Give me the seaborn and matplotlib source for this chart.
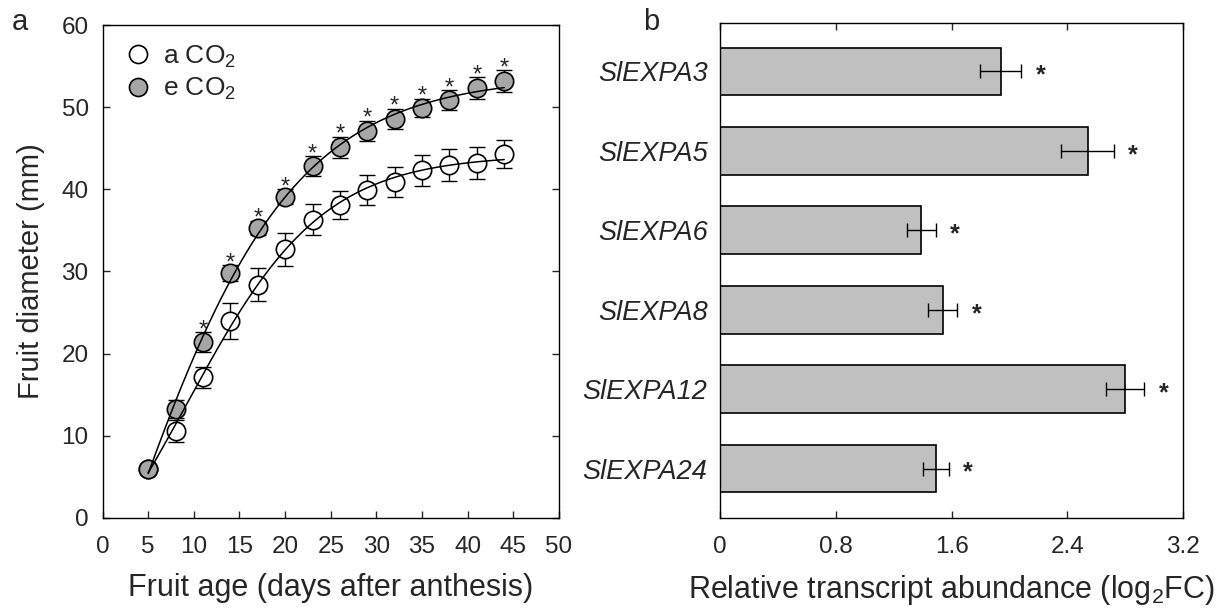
import numpy as np
import pandas as pd
import seaborn as sns
import matplotlib.pyplot as plt
from matplotlib.lines import Line2D

# ---- data -------------------------------------------------------------
days = [5, 8, 11, 14, 17, 20, 23, 26, 29, 32, 35, 38, 41, 44]
ambient_mean = [6.0, 10.6, 17.1, 24.0, 28.4, 32.7, 36.3, 38.1, 39.9, 40.9, 42.3, 43.0, 43.2, 44.3]
ambient_se = [0.4, 1.35, 1.3, 2.2, 2.0, 2.0, 1.9, 1.7, 1.8, 1.8, 1.9, 1.95, 1.9, 1.65]
elevated_mean = [6.0, 13.2, 21.4, 29.8, 35.3, 39.1, 42.8, 45.1, 47.1, 48.6, 49.9, 50.9, 52.3, 53.2]
elevated_se = [0.4, 1.1, 1.2, 1.0, 0.9, 0.9, 1.2, 1.3, 1.25, 1.2, 1.15, 1.2, 1.35, 1.3]
day_significant = [False, False, True, True, True, True, True, True, True, True, True, True, True, True]

genes = ["SlEXPA3", "SlEXPA5", "SlEXPA6", "SlEXPA8", "SlEXPA12", "SlEXPA24"]
log2fc = [1.94, 2.54, 1.39, 1.54, 2.80, 1.49]
log2fc_se = [0.14, 0.18, 0.10, 0.10, 0.13, 0.09]
gene_significant = [True, True, True, True, True, True]

x_ticks_a = [0, 5, 10, 15, 20, 25, 30, 35, 40, 45, 50]
y_ticks_a = [0, 10, 20, 30, 40, 50, 60]
x_ticks_b = [0, 0.8, 1.6, 2.4, 3.2]
x_ticklabels_b = ["0", "0.8", "1.6", "2.4", "3.2"]

# ---- style ------------------------------------------------------------
sns.set_style("white")
plt.rcParams["font.family"] = ["Liberation Sans", "DejaVu Sans"]
plt.rcParams["mathtext.fontset"] = "custom"
plt.rcParams["mathtext.rm"] = "Liberation Sans"
plt.rcParams["mathtext.it"] = "Liberation Sans:italic"

TICK_FS = 17.5
XLABEL_FS = 22
YLABEL_FS = 21
GREY_MARK = "#a6a6a6"
GREY_BAR = "#c0c0c0"


def fit_sigmoid(x, y):
    """Least-squares four-parameter sigmoid y = y0 + a / (1 + exp(-k*(x - x0)))."""
    x = np.asarray(x, float)
    y = np.asarray(y, float)
    best = None
    for k in np.linspace(0.03, 0.4, 186):
        for x0 in np.linspace(-10.0, 25.0, 351):
            g = 1.0 / (1.0 + np.exp(-k * (x - x0)))
            A = np.column_stack([np.ones_like(x), g])
            coef, *_ = np.linalg.lstsq(A, y, rcond=None)
            sse = float(np.sum((A @ coef - y) ** 2))
            if best is None or sse < best[0]:
                best = (sse, coef, k, x0)
    _, (y0, a), k, x0 = best
    return lambda t: y0 + a / (1.0 + np.exp(-k * (t - x0)))


fig = plt.figure(figsize=(12.31, 6.10), dpi=100)
ax_a = fig.add_axes([0.0833, 0.151, 0.3708, 0.808])
ax_b = fig.add_axes([0.5849, 0.151, 0.3761, 0.8115])

# ---- panel a: fruit diameter -----------------------------------------
growth = pd.DataFrame({
    "day": days * 2,
    "diameter": ambient_mean + elevated_mean,
    "se": ambient_se + elevated_se,
    "treatment": ["a"] * len(days) + ["e"] * len(days),
})

for treat, face in [("a", "white"), ("e", GREY_MARK)]:
    sub = growth[growth["treatment"] == treat]
    ax_a.errorbar(sub["day"], sub["diameter"], yerr=sub["se"], fmt="none",
                  ecolor="black", elinewidth=1.0, capsize=6, capthick=1.0, zorder=2)
    sns.scatterplot(data=sub, x="day", y="diameter", ax=ax_a, s=175,
                    color=face, edgecolor="black", linewidth=1.2, zorder=3, legend=False)
    curve = fit_sigmoid(sub["day"], sub["diameter"])
    t = np.linspace(min(days), max(days), 300)
    sns.lineplot(x=t, y=curve(t), ax=ax_a, color="black", linewidth=1.1,
                 estimator=None, sort=False, zorder=4)

for d, m, s, sig in zip(days, elevated_mean, elevated_se, day_significant):
    if sig:
        ax_a.annotate("*", xy=(d, m + s), xytext=(0, -3), textcoords="offset points",
                      ha="center", va="baseline", fontsize=17)

ax_a.set_xlim(0, 50)
ax_a.set_ylim(0, 60)
ax_a.set_xticks(x_ticks_a)
ax_a.set_yticks(y_ticks_a)
ax_a.tick_params(axis="both", direction="in", length=5, width=1.0,
                 labelsize=TICK_FS, left=True, right=True, bottom=True, top=False)
ax_a.tick_params(axis="x", pad=13)
ax_a.tick_params(axis="y", pad=10)
ax_a.set_xlabel("Fruit age (days after anthesis)", fontsize=XLABEL_FS, labelpad=11)
ax_a.set_ylabel("Fruit diameter (mm)", fontsize=YLABEL_FS)
ax_a.yaxis.set_label_coords(-0.125, 0.5)

handles = [
    Line2D([], [], linestyle="none", marker="o", markersize=13, markerfacecolor="white",
           markeredgecolor="black", markeredgewidth=1.2),
    Line2D([], [], linestyle="none", marker="o", markersize=13, markerfacecolor=GREY_MARK,
           markeredgecolor="black", markeredgewidth=1.2),
]
ax_a.legend(handles, ["a CO$_2$", "e CO$_2$"], loc="upper left", frameon=False,
            fontsize=19, handletextpad=0.3, labelspacing=0.25,
            borderaxespad=0.3, handlelength=1.3)

# ---- panel b: expansin transcripts -----------------------------------
expr = pd.DataFrame({"gene": genes, "log2fc": log2fc, "se": log2fc_se})
sns.barplot(data=expr, x="log2fc", y="gene", orient="h", ax=ax_b, color=GREY_BAR,
            edgecolor="black", linewidth=1.2, width=0.6, errorbar=None, saturation=1)
ypos = np.arange(len(genes))
ax_b.errorbar(expr["log2fc"], ypos, xerr=expr["se"], fmt="none", ecolor="black",
              elinewidth=1.0, capsize=5, capthick=1.0, zorder=3)
for i, (v, s, sig) in enumerate(zip(log2fc, log2fc_se, gene_significant)):
    if sig:
        ax_b.annotate("*", xy=(v + s, i), xytext=(14, -8), textcoords="offset points",
                      ha="center", va="baseline", fontsize=18, fontweight="bold")

ax_b.set_xlim(0, 3.2)
ax_b.set_ylim(5.62, -0.61)
ax_b.set_xticks(x_ticks_b)
ax_b.set_xticklabels(x_ticklabels_b)
ax_b.tick_params(axis="x", direction="in", length=5, width=1.0, labelsize=TICK_FS,
                 top=True, bottom=True, pad=13)
ax_b.tick_params(axis="y", length=0, pad=9)
for lab in ax_b.get_yticklabels():
    lab.set_fontstyle("italic")
    lab.set_fontsize(19.5)
ax_b.set_ylabel("")
ax_b.set_xlabel("Relative transcript abundance (log$_2$FC)", fontsize=XLABEL_FS, labelpad=11)

for ax in (ax_a, ax_b):
    for sp in ax.spines.values():
        sp.set_visible(True)
        sp.set_color("black")
        sp.set_linewidth(1.0)

fig.text(0.0162, 0.950, "a", fontsize=21, ha="center", va="baseline")
fig.text(0.529, 0.950, "b", fontsize=21, ha="center", va="baseline")

fig.savefig("out.png", dpi=100)
